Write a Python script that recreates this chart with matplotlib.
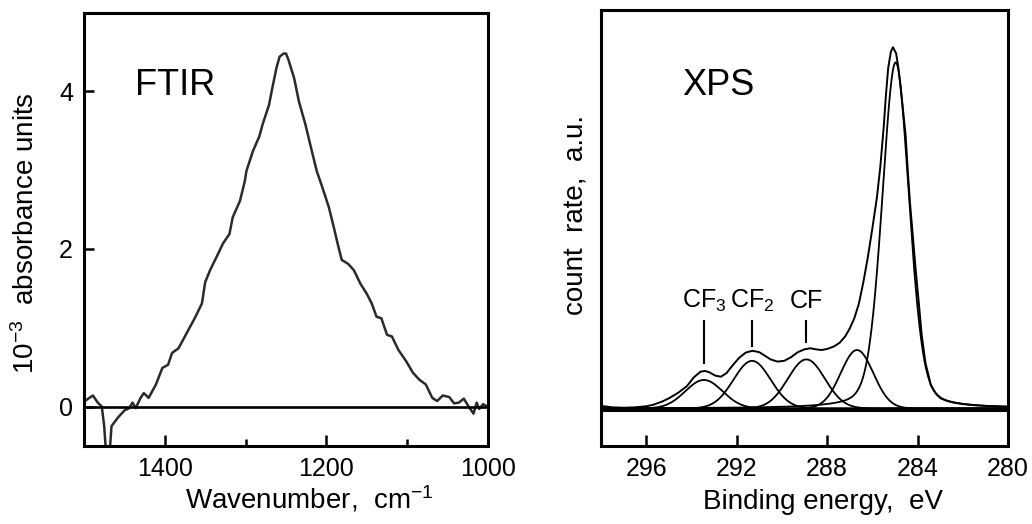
import matplotlib
matplotlib.use('Agg')
import matplotlib.pyplot as plt
import numpy as np

plt.rcParams['font.family'] = 'Liberation Sans'
plt.rcParams['mathtext.fontset'] = 'custom'
plt.rcParams['mathtext.rm'] = 'Liberation Sans'
plt.rcParams['mathtext.default'] = 'rm'

# FTIR spectrum (wavenumber cm-1, 10^-3 absorbance)
ftir_wn = [1499, 1489, 1483, 1478, 1475, 1472, 1469, 1466, 1458, 1450,
           1444, 1440, 1436, 1430, 1426, 1420, 1411, 1403, 1396, 1391,
           1383, 1373, 1362, 1354, 1350, 1344, 1334, 1328, 1320, 1316,
           1307, 1301, 1299, 1291, 1283, 1279, 1271, 1267, 1262, 1258,
           1253, 1250, 1247, 1240, 1234, 1226, 1218, 1212, 1205, 1197,
           1191, 1185, 1181, 1173, 1166, 1158, 1150, 1144, 1138, 1132,
           1125, 1119, 1111, 1101, 1093, 1085, 1077, 1069, 1063, 1056,
           1048, 1042, 1036, 1030, 1024, 1018, 1014, 1011, 1006, 1001]
ftir_abs = [0.07, 0.14, 0.05, 0.00, -0.25, -0.70, -0.70, -0.25, -0.14, -0.05,
            -0.02, 0.05, -0.02, 0.11, 0.17, 0.11, 0.28, 0.49, 0.53, 0.68,
            0.74, 0.93, 1.14, 1.31, 1.58, 1.73, 1.94, 2.07, 2.19, 2.40,
            2.61, 2.86, 2.99, 3.24, 3.43, 3.58, 3.83, 4.04, 4.29, 4.44,
            4.48, 4.48, 4.40, 4.17, 3.87, 3.58, 3.24, 2.99, 2.78, 2.53,
            2.28, 2.02, 1.86, 1.81, 1.73, 1.56, 1.43, 1.31, 1.14, 1.12,
            0.91, 0.89, 0.72, 0.57, 0.43, 0.34, 0.28, 0.11, 0.07, 0.14,
            0.12, 0.04, 0.05, 0.10, 0.00, -0.09, 0.05, -0.03, 0.03, 0.00]

# XPS C1s envelope (binding energy eV, counts a.u.)
xps_be = [298.0, 297.5, 297.0, 296.5, 296.0, 295.7, 295.3, 295.0, 294.6, 294.2,
          293.9, 293.6, 293.4, 293.2, 292.95, 292.7, 292.45, 292.2, 291.9, 291.6,
          291.3, 291.0, 290.75, 290.5, 290.2, 289.9, 289.6, 289.3, 289.0, 288.75,
          288.5, 288.25, 288.0, 287.7, 287.45, 287.2, 287.0, 286.8, 286.6, 286.4,
          286.2, 286.0, 285.8, 285.65, 285.5, 285.4, 285.3, 285.18, 285.09, 284.95,
          284.85, 284.76, 284.65, 284.53, 284.44, 284.34, 284.2, 284.09, 283.95, 283.82,
          283.65, 283.5, 283.42, 283.2, 282.98, 282.7, 282.4, 282.0, 281.5, 281.0,
          280.5, 280.0]
xps_counts = [0.7, 0.3, 0.2, 0.3, 0.6, 1.0, 1.9, 2.8, 4.3, 6.2,
              8.6, 10.2, 10.4, 10.0, 9.1, 8.8, 9.8, 11.8, 14.0, 15.5,
              16.0, 15.6, 14.6, 13.6, 13.0, 13.2, 14.2, 15.6, 16.4, 16.7,
              16.4, 16.2, 16.5, 17.2, 18.2, 20.0, 22.2, 25.0, 29.0, 35.0,
              42.0, 50.0, 58.5, 67.0, 78.0, 87.0, 94.5, 99.0, 100.2, 98.5,
              94.5, 89.6, 83.0, 75.8, 66.5, 57.3, 47.0, 38.8, 29.5, 20.4,
              12.5, 8.8, 6.5, 4.2, 2.8, 2.1, 1.6, 1.2, 0.9, 0.7,
              0.6, 0.5]

# fitted components: centre (eV), height, gaussian sigma (eV), lorentz fraction
peak_centers = [293.45, 291.32, 288.92, 286.68, 284.97]
peak_heights = [7.9, 13.2, 13.6, 16.2, 96.0]
peak_sigmas = [0.82, 0.82, 0.82, 0.72, 0.60]
peak_lorentz = [0.0, 0.0, 0.0, 0.0, 0.25]

peak_names = ['CF$_3$', 'CF$_2$', 'CF']

fig = plt.figure(figsize=(10.32, 5.24), dpi=100)

# ---- FTIR panel ----
ax1 = fig.add_axes([0.0814, 0.149, 0.3915, 0.827])
ax1.plot(ftir_wn, ftir_abs, color='#2a2a2a', lw=1.8)
ax1.axhline(0, color='black', lw=1.9)
ax1.set_xlim(1500, 1000)
ax1.set_ylim(-0.5, 5.0)
ax1.set_xticks([1400, 1200, 1000])
ax1.set_xticks([1300, 1100], minor=True)
ax1.set_yticks([0, 2, 4])
ax1.tick_params(axis='both', which='major', direction='in', length=8,
                width=1.8, labelsize=18, top=False, right=False)
ax1.tick_params(axis='x', which='major', pad=8)
ax1.tick_params(axis='y', which='major', pad=8, length=7)
ax1.tick_params(axis='x', which='minor', direction='in', length=5, width=1.8)
ax1.set_xlabel('Wavenumber,  cm$^{-1}$', fontsize=20, va='baseline')
ax1.xaxis.set_label_coords(0.557, -0.145)
ax1.set_ylabel('10$^{-3}$  absorbance units', fontsize=20, va='center')
ax1.yaxis.set_label_coords(-0.144, 0.491)
ax1.text(0.126, 0.81, 'FTIR', transform=ax1.transAxes, fontsize=26,
         ha='left', va='baseline')

# ---- XPS panel ----
ax2 = fig.add_axes([0.5824, 0.149, 0.3944, 0.831])
be = np.linspace(298, 280, 1200)
for c, h, s, eta in zip(peak_centers, peak_heights, peak_sigmas, peak_lorentz):
    gam = s * np.sqrt(2 * np.log(2))
    g = np.exp(-(be - c) ** 2 / (2 * s ** 2))
    lor = gam ** 2 / ((be - c) ** 2 + gam ** 2)
    ax2.plot(be, h * ((1 - eta) * g + eta * lor), color='black', lw=1.3)
ax2.plot(xps_be, xps_counts, color='black', lw=1.4)
ax2.axhline(-0.5, color='black', lw=2.2)
ax2.set_xlim(298, 280)
ax2.set_ylim(-10.4, 110.4)
ax2.set_xticks([296, 292, 288, 284, 280])
ax2.set_yticks([])
ax2.tick_params(axis='x', direction='in', length=8, width=1.8,
                labelsize=18, pad=8, top=False)
ax2.set_xlabel('Binding energy,  eV', fontsize=20, va='baseline')
ax2.xaxis.set_label_coords(0.545, -0.145)
ax2.set_ylabel('count  rate,  a.u.', fontsize=20, va='center')
ax2.yaxis.set_label_coords(-0.061, 0.53)
ax2.text(0.2, 0.806, 'XPS', transform=ax2.transAxes, fontsize=26,
         ha='left', va='baseline')

# peak markers above the three fluorocarbon components
marker_bottoms = [12.7, 17.4, 18.5]
for name, c, yb in zip(peak_names, peak_centers[:3], marker_bottoms):
    ax2.plot([c, c], [yb, 24.3], color='black', lw=1.5)
    ax2.text(c, 27.8, name, fontsize=18, ha='center', va='baseline')

for ax in (ax1, ax2):
    for sp in ax.spines.values():
        sp.set_linewidth(2.2)
        sp.set_color('black')

fig.savefig('out.png', dpi=100)
